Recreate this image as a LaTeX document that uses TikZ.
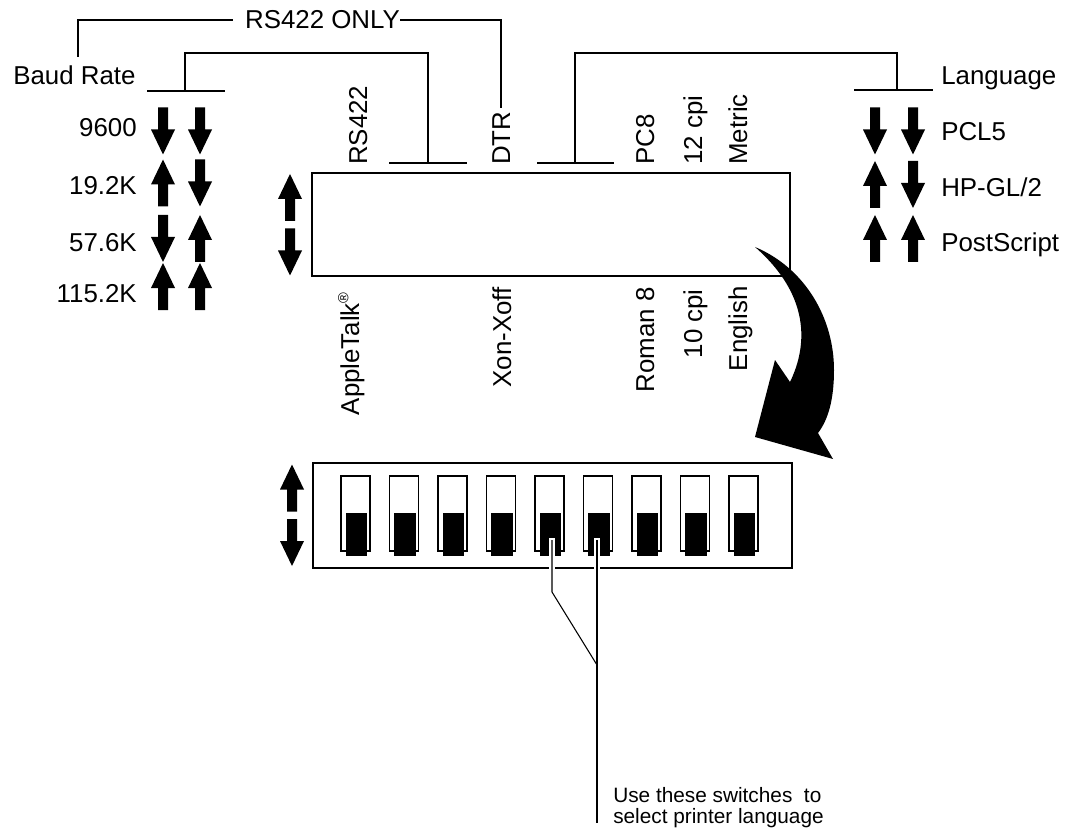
\documentclass[tikz,border=0pt]{standalone}
\usepackage{fontspec}
\setmainfont{Liberation Sans}
\begin{document}
\begin{tikzpicture}[x=0.75pt,y=-0.75pt,
  lbl/.style={inner sep=0pt, font=\fontsize{19.4pt}{23pt}\selectfont},
  small/.style={inner sep=0pt, font=\fontsize{15.6pt}{18pt}\selectfont},
  brk/.style={line width=1.5pt},
  box/.style={draw, line width=1.6pt},
  slot/.style={draw, line width=0.9pt, fill=white},
  lead/.style={line width=0.8pt},
  halo/.style={line width=5pt, white},
  uparr/.pic={\fill (0,-23.5) -- (12,1.5) -- (5,1.5) -- (5,23.5) -- (-5,23.5) -- (-5,1.5) -- (-12,1.5) -- cycle;},
  dnarr/.pic={\fill (0,23.5) -- (12,-1.5) -- (5,-1.5) -- (5,-23.5) -- (-5,-23.5) -- (-5,-1.5) -- (-12,-1.5) -- cycle;},
]
\useasboundingbox (0,0) rectangle (1068,831);

% ---- top labels and brackets
\node[lbl, anchor=base] (rsonly) at (322.5,29) {RS422 ONLY};
\node[lbl, anchor=base west] (baud) at (13,85) {Baud Rate};
\node[lbl, anchor=base west] (lang) at (941,85) {Language};

\draw[brk] (78,57) |- ([xshift=-9pt]rsonly.west);
\draw[brk] (rsonly.east) -| (501,108);

\draw[brk] (147,91) -- (225,91);
\draw[brk] (185,91) -- (185,53) -- (428,53) -- (428,163);
\draw[brk] (389,163) -- (467,163);

\draw[brk] (537,163) -- (614,163);
\draw[brk] (575,163) -- (575,53) -- (897,53) -- (897,90);
\draw[brk] (854,90) -- (933,90);

% ---- baud rate values
\node[lbl, anchor=base east] (b1) at (137,137) {9600};
\node[lbl, anchor=base east] (b2) at (137,195) {19.2K};
\node[lbl, anchor=base east] (b3) at (137,252) {57.6K};
\node[lbl, anchor=base east] (b4) at (137,302) {115.2K};
\pic at (163,131) {dnarr}; \pic at (200,131) {dnarr};
\pic at (163,183) {uparr}; \pic at (200,183) {dnarr};
\pic at (163,238.5) {dnarr}; \pic at (200,238.5) {uparr};
\pic at (163,286.5) {uparr}; \pic at (200,286.5) {uparr};

% ---- language values
\node[lbl, anchor=base west] (l1) at (941,141) {PCL5};
\node[lbl, anchor=base west] (l2) at (941,197) {HP-GL/2};
\node[lbl, anchor=base west] (l3) at (941,252) {PostScript};
\pic at (875,131) {dnarr}; \pic at (913,131) {dnarr};
\pic at (875,184.5) {uparr}; \pic at (913,184.5) {dnarr};
\pic at (875,238.5) {uparr}; \pic at (913,238.5) {uparr};

% ---- main rectangle
\draw[box] (312,173) rectangle (790,276);
\pic at (290,197.5) {uparr};
\pic at (290,252) {dnarr};

% rotated labels above
\node[lbl, rotate=90, anchor=base west] (rs) at (367,165) {RS422};
\node[lbl, rotate=90, anchor=base west] (dtr) at (510,165) {DTR};
\node[lbl, rotate=90, anchor=base west] (pc8) at (654,165) {PC8};
\node[lbl, rotate=90, anchor=base west] (c12) at (702,165) {12 cpi};
\node[lbl, rotate=90, anchor=base west] (met) at (747,165) {Metric};

% rotated labels below
\node[lbl, rotate=90, anchor=base east] (apple) at (359,292) {AppleTalk\raisebox{8pt}{\fontsize{11pt}{11pt}\selectfont ®}};
\node[lbl, rotate=90, anchor=base east] (xon) at (511,287) {Xon-Xoff};
\node[lbl, rotate=90, anchor=base east] (rom) at (654,287) {Roman 8};
\node[lbl, rotate=90, anchor=base east] (c10) at (702,289) {10 cpi};
\node[lbl, rotate=90, anchor=base east] (eng) at (747,286) {English};

% ---- curved arrow
\fill (755,247) .. controls (805,268) and (834,318) .. (834,370)
  .. controls (834,400) and (828,420) .. (818,433)
  -- (833,459) -- (755,437) -- (775,360) -- (790,382)
  .. controls (808,345) and (810,295) .. (755,247) -- cycle;

% ---- DIP switch block
\draw[box] (313,463) rectangle (792,568);
\pic at (292,488) {uparr};
\pic at (292,542.5) {dnarr};
\foreach \i in {0,...,8} {
  \pgfmathsetmacro\xl{341+48.5*\i}
  \draw[slot] (\xl,476) rectangle ++(29,75);
  \fill (\xl+4.5,513) rectangle ++(21.5,43);
}

% ---- leader lines
\coordinate (k5) at (552,540);
\coordinate (k6) at (597,540);
\coordinate (bend) at (552,592);
\coordinate (join) at (597,665);
\coordinate (lend) at (597,823);
\draw[halo] (552,538) -- (552,574);
\draw[halo] (597,538) -- (597,574);
\draw[lead] (k5) -- (bend) -- (join);
\draw[lead] (k6) -- (lend);

\node[small, anchor=base west] (t1) at (613,802) {Use these switches\ \ to};
\node[small, anchor=base west] (t2) at (613,823) {select printer language};
\end{tikzpicture}
\end{document}
